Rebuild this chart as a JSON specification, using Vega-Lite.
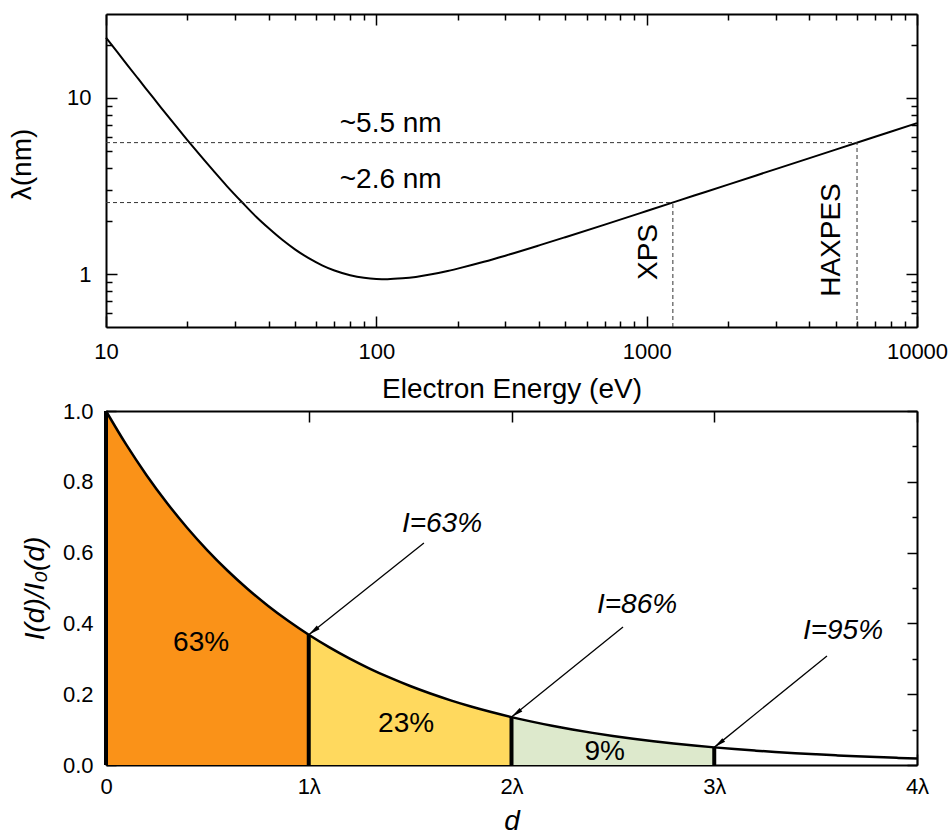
{
  "$schema": "https://vega.github.io/schema/vega-lite/v6.json",
  "padding": {"left": 8, "top": 13, "right": 0, "bottom": 0},
  "bounds": "flush",
  "spacing": 84,
  "datasets": {
    "imfp": [
      {"E": 10, "lam": 22.03}, {"E": 11, "lam": 18.26}, {"E": 12, "lam": 15.39}, {"E": 13, "lam": 13.16},
      {"E": 14, "lam": 11.39}, {"E": 15, "lam": 9.97}, {"E": 16, "lam": 8.80}, {"E": 18, "lam": 7.03},
      {"E": 20, "lam": 5.77}, {"E": 22, "lam": 4.84}, {"E": 25, "lam": 3.85}, {"E": 28, "lam": 3.16},
      {"E": 32, "lam": 2.54}, {"E": 36, "lam": 2.11}, {"E": 40, "lam": 1.82}, {"E": 45, "lam": 1.56},
      {"E": 50, "lam": 1.381}, {"E": 56, "lam": 1.234}, {"E": 63, "lam": 1.121}, {"E": 70, "lam": 1.047},
      {"E": 80, "lam": 0.985}, {"E": 90, "lam": 0.952}, {"E": 100, "lam": 0.938}, {"E": 110, "lam": 0.935},
      {"E": 125, "lam": 0.945}, {"E": 140, "lam": 0.963}, {"E": 160, "lam": 0.996}, {"E": 180, "lam": 1.033},
      {"E": 200, "lam": 1.073}, {"E": 250, "lam": 1.173}, {"E": 300, "lam": 1.271}, {"E": 400, "lam": 1.454},
      {"E": 500, "lam": 1.619}, {"E": 700, "lam": 1.909}, {"E": 1000, "lam": 2.279}, {"E": 1500, "lam": 2.790},
      {"E": 2000, "lam": 3.220}, {"E": 3000, "lam": 3.944}, {"E": 5000, "lam": 5.091}, {"E": 7000, "lam": 6.024},
      {"E": 10000, "lam": 7.2}
    ],
    "decay": [
      {"d": 0, "v": 1}, {"d": 0.1, "v": 0.9048}, {"d": 0.2, "v": 0.8187}, {"d": 0.3, "v": 0.7408},
      {"d": 0.4, "v": 0.6703}, {"d": 0.5, "v": 0.6065}, {"d": 0.6, "v": 0.5488}, {"d": 0.7, "v": 0.4966},
      {"d": 0.8, "v": 0.4493}, {"d": 0.9, "v": 0.4066}, {"d": 1.0, "v": 0.3679}, {"d": 1.1, "v": 0.3329},
      {"d": 1.2, "v": 0.3012}, {"d": 1.3, "v": 0.2725}, {"d": 1.4, "v": 0.2466}, {"d": 1.5, "v": 0.2231},
      {"d": 1.6, "v": 0.2019}, {"d": 1.7, "v": 0.1827}, {"d": 1.8, "v": 0.1653}, {"d": 1.9, "v": 0.1496},
      {"d": 2.0, "v": 0.1353}, {"d": 2.1, "v": 0.1225}, {"d": 2.2, "v": 0.1108}, {"d": 2.3, "v": 0.1003},
      {"d": 2.4, "v": 0.0907}, {"d": 2.5, "v": 0.0821}, {"d": 2.6, "v": 0.0743}, {"d": 2.7, "v": 0.0672},
      {"d": 2.8, "v": 0.0608}, {"d": 2.9, "v": 0.0550}, {"d": 3.0, "v": 0.0498}, {"d": 3.1, "v": 0.0450},
      {"d": 3.2, "v": 0.0408}, {"d": 3.3, "v": 0.0369}, {"d": 3.4, "v": 0.0334}, {"d": 3.5, "v": 0.0302},
      {"d": 3.6, "v": 0.0273}, {"d": 3.7, "v": 0.0247}, {"d": 3.8, "v": 0.0224}, {"d": 3.9, "v": 0.0202},
      {"d": 4.0, "v": 0.0183}
    ],
    "regions": [
      {"d": 0, "v": 1, "r": "a"}, {"d": 0.1, "v": 0.9048, "r": "a"}, {"d": 0.2, "v": 0.8187, "r": "a"}, {"d": 0.3, "v": 0.7408, "r": "a"},
      {"d": 0.4, "v": 0.6703, "r": "a"}, {"d": 0.5, "v": 0.6065, "r": "a"}, {"d": 0.6, "v": 0.5488, "r": "a"}, {"d": 0.7, "v": 0.4966, "r": "a"},
      {"d": 0.8, "v": 0.4493, "r": "a"}, {"d": 0.9, "v": 0.4066, "r": "a"}, {"d": 1.0, "v": 0.3679, "r": "a"},
      {"d": 1.0, "v": 0.3679, "r": "b"}, {"d": 1.1, "v": 0.3329, "r": "b"}, {"d": 1.2, "v": 0.3012, "r": "b"}, {"d": 1.3, "v": 0.2725, "r": "b"},
      {"d": 1.4, "v": 0.2466, "r": "b"}, {"d": 1.5, "v": 0.2231, "r": "b"}, {"d": 1.6, "v": 0.2019, "r": "b"}, {"d": 1.7, "v": 0.1827, "r": "b"},
      {"d": 1.8, "v": 0.1653, "r": "b"}, {"d": 1.9, "v": 0.1496, "r": "b"}, {"d": 2.0, "v": 0.1353, "r": "b"},
      {"d": 2.0, "v": 0.1353, "r": "c"}, {"d": 2.1, "v": 0.1225, "r": "c"}, {"d": 2.2, "v": 0.1108, "r": "c"}, {"d": 2.3, "v": 0.1003, "r": "c"},
      {"d": 2.4, "v": 0.0907, "r": "c"}, {"d": 2.5, "v": 0.0821, "r": "c"}, {"d": 2.6, "v": 0.0743, "r": "c"}, {"d": 2.7, "v": 0.0672, "r": "c"},
      {"d": 2.8, "v": 0.0608, "r": "c"}, {"d": 2.9, "v": 0.0550, "r": "c"}, {"d": 3.0, "v": 0.0498, "r": "c"}
    ]
  },
  "vconcat": [
    {
      "width": 811,
      "height": 313,
      "resolve": {"axis": {"x": "independent", "y": "independent"}},
      "layer": [
        {
          "data": {"name": "imfp"},
          "mark": {"type": "line", "color": "black", "strokeWidth": 2, "interpolate": "monotone"},
          "encoding": {
            "x": {"field": "E", "type": "quantitative",
              "scale": {"type": "log", "domain": [10, 10000], "nice": false},
              "axis": {"orient": "bottom", "values": [10, 100, 1000, 10000], "format": "d", "tickSize": -11, "labelPadding": 25,
                "title": "Electron Energy (eV)", "titleBaseline": "alphabetic", "titleY": 70}},
            "y": {"field": "lam", "type": "quantitative",
              "scale": {"type": "log", "domain": [0.5, 30], "nice": false},
              "axis": {"orient": "left", "values": [1, 10], "format": "d", "tickSize": -11, "labelPadding": 26,
                "title": "λ(nm)", "titleBaseline": "alphabetic", "titleX": -76, "titleY": 150}}
          }
        },
        {
          "data": {"values": [
            {"y": 5.577, "x1": 10, "x2": 6000},
            {"y": 2.546, "x1": 10, "x2": 1250}
          ]},
          "mark": {"type": "rule", "color": "#333333", "strokeWidth": 1, "strokeDash": [4, 3]},
          "encoding": {
            "x": {"field": "x1", "type": "quantitative",
              "axis": {"orient": "bottom", "values": [20, 30, 40, 50, 60, 70, 80, 90, 200, 300, 400, 500, 600, 700, 800, 900, 2000, 3000, 4000, 5000, 6000, 7000, 8000, 9000],
                "labels": false, "domain": false, "tickSize": -6, "title": null}},
            "x2": {"field": "x2"},
            "y": {"field": "y", "type": "quantitative",
              "axis": {"orient": "left", "values": [0.6, 0.7, 0.8, 0.9, 2, 3, 4, 5, 6, 7, 8, 9, 20],
                "labels": false, "domain": false, "tickSize": -6, "title": null}}
          }
        },
        {
          "data": {"values": [
            {"x": 1250, "y1": 0.5, "y2": 2.546},
            {"x": 6000, "y1": 0.5, "y2": 5.577}
          ]},
          "mark": {"type": "rule", "color": "#333333", "strokeWidth": 1, "strokeDash": [4, 3]},
          "encoding": {
            "x": {"field": "x", "type": "quantitative",
              "axis": {"orient": "top", "values": [10, 100, 1000, 10000], "labels": false, "tickSize": -11, "title": null}},
            "y": {"field": "y1", "type": "quantitative",
              "axis": {"orient": "right", "values": [1, 10], "labels": false, "tickSize": -11, "title": null}},
            "y2": {"field": "y2"}
          }
        },
        {
          "data": {"values": [
            {"E": 113, "lam": 7.12, "label": "~5.5 nm"},
            {"E": 113, "lam": 3.42, "label": "~2.6 nm"}
          ]},
          "mark": {"type": "text", "fontSize": 28, "align": "center", "baseline": "middle", "color": "black"},
          "encoding": {
            "x": {"field": "E", "type": "quantitative",
              "axis": {"orient": "top", "values": [20, 30, 40, 50, 60, 70, 80, 90, 200, 300, 400, 500, 600, 700, 800, 900, 2000, 3000, 4000, 5000, 6000, 7000, 8000, 9000],
                "labels": false, "domain": false, "tickSize": -6, "title": null}},
            "y": {"field": "lam", "type": "quantitative",
              "axis": {"orient": "right", "values": [0.6, 0.7, 0.8, 0.9, 2, 3, 4, 5, 6, 7, 8, 9, 20],
                "labels": false, "domain": false, "tickSize": -6, "title": null}},
            "text": {"field": "label"}
          }
        },
        {
          "data": {"values": [
            {"E": 1021, "lam": 1.334, "label": "XPS"},
            {"E": 4853, "lam": 1.56, "label": "HAXPES"}
          ]},
          "mark": {"type": "text", "fontSize": 28, "align": "center", "baseline": "middle", "angle": 270, "color": "black"},
          "encoding": {
            "x": {"field": "E", "type": "quantitative", "axis": null},
            "y": {"field": "lam", "type": "quantitative", "axis": null},
            "text": {"field": "label"}
          }
        }
      ]
    },
    {
      "width": 811,
      "height": 354,
      "resolve": {"axis": {"x": "independent", "y": "independent"}},
      "layer": [
        {
          "data": {"name": "regions"},
          "mark": {"type": "area", "opacity": 1, "interpolate": "monotone"},
          "encoding": {
            "x": {"field": "d", "type": "quantitative",
              "scale": {"domain": [0, 4], "nice": false},
              "axis": {"orient": "bottom", "values": [0, 1, 2, 3, 4], "tickSize": -11, "labelPadding": 22,
                "labelExpr": "datum.value == 0 ? '0' : datum.value + 'λ'",
                "title": "d", "titleFontStyle": "italic", "titleBaseline": "alphabetic", "titleY": 64}},
            "y": {"field": "v", "type": "quantitative", "stack": null,
              "scale": {"domain": [0, 1], "nice": false},
              "axis": {"orient": "left", "values": [0, 0.2, 0.4, 0.6, 0.8, 1.0], "format": ".1f", "tickSize": -10, "labelPadding": 23,
                "title": "I(d)/I₀(d)", "titleFontStyle": "italic", "titleBaseline": "alphabetic", "titleX": -63}},
            "color": {"field": "r", "type": "nominal", "legend": null,
              "scale": {"domain": ["a", "b", "c"], "range": ["#FA9218", "#FFD95E", "#DDE9CC"]}}
          }
        },
        {
          "data": {"name": "decay"},
          "mark": {"type": "line", "color": "black", "strokeWidth": 2.5, "interpolate": "monotone"},
          "encoding": {
            "x": {"field": "d", "type": "quantitative",
              "axis": {"orient": "top", "values": [0, 1, 2, 3, 4], "labels": false, "tickSize": -11, "title": null}},
            "y": {"field": "v", "type": "quantitative",
              "axis": {"orient": "left", "values": [0.1, 0.3, 0.5, 0.7, 0.9], "labels": false, "domain": false, "tickSize": -5, "title": null}}
          }
        },
        {
          "data": {"values": [
            {"d": 0, "top": 1}, {"d": 1, "top": 0.3679}, {"d": 2, "top": 0.1353}, {"d": 3, "top": 0.0498}
          ]},
          "mark": {"type": "rule", "color": "black", "strokeWidth": 4},
          "encoding": {
            "x": {"field": "d", "type": "quantitative", "axis": null},
            "y": {"field": "top", "type": "quantitative",
              "axis": {"orient": "right", "values": [0, 0.2, 0.4, 0.6, 0.8, 1.0], "labels": false, "tickSize": -10, "title": null}},
            "y2": {"datum": 0}
          }
        },
        {
          "data": {"values": [
            {"tx": 1.568, "ty": 0.627, "hx": 1, "hy": 0.3679},
            {"tx": 2.55, "ty": 0.39, "hx": 2, "hy": 0.1353},
            {"tx": 3.556, "ty": 0.308, "hx": 3, "hy": 0.0498}
          ]},
          "mark": {"type": "rule", "color": "black", "strokeWidth": 1.3},
          "encoding": {
            "x": {"field": "tx", "type": "quantitative", "axis": null},
            "y": {"field": "ty", "type": "quantitative",
              "axis": {"orient": "right", "values": [0.1, 0.3, 0.5, 0.7, 0.9], "labels": false, "domain": false, "tickSize": -5, "title": null}},
            "x2": {"field": "hx"},
            "y2": {"field": "hy"}
          }
        },
        {
          "data": {"values": [
            {"hx": 1, "hy": 0.3679}, {"hx": 2, "hy": 0.1353}, {"hx": 3, "hy": 0.0498}
          ]},
          "mark": {"type": "point", "shape": "M0,0L0.45,2.4L-0.45,2.4Z", "size": 100, "filled": true, "color": "black", "opacity": 1, "angle": 232},
          "encoding": {
            "x": {"field": "hx", "type": "quantitative", "axis": null},
            "y": {"field": "hy", "type": "quantitative", "axis": null}
          }
        },
        {
          "data": {"values": [
            {"d": 0.469, "v": 0.346, "label": "63%"},
            {"d": 1.48, "v": 0.116, "label": "23%"},
            {"d": 2.46, "v": 0.037, "label": "9%"}
          ]},
          "mark": {"type": "text", "fontSize": 28, "align": "center", "baseline": "middle", "color": "black"},
          "encoding": {
            "x": {"field": "d", "type": "quantitative", "axis": null},
            "y": {"field": "v", "type": "quantitative", "axis": null},
            "text": {"field": "label"}
          }
        },
        {
          "data": {"values": [
            {"d": 1.657, "v": 0.681, "label": "I=63%"},
            {"d": 2.619, "v": 0.452, "label": "I=86%"},
            {"d": 3.635, "v": 0.379, "label": "I=95%"}
          ]},
          "mark": {"type": "text", "fontSize": 28, "fontStyle": "italic", "align": "center", "baseline": "middle", "color": "black"},
          "encoding": {
            "x": {"field": "d", "type": "quantitative", "axis": null},
            "y": {"field": "v", "type": "quantitative", "axis": null},
            "text": {"field": "label"}
          }
        }
      ]
    }
  ],
  "config": {
    "font": "Liberation Sans",
    "view": {"stroke": null},
    "axis": {
      "grid": false, "domainColor": "black", "domainWidth": 2, "tickColor": "black", "tickWidth": 1.5,
      "labelColor": "black", "titleColor": "black", "labelFontSize": 22, "titleFontSize": 28,
      "titleFontWeight": "normal", "labelFont": "Liberation Sans", "titleFont": "Liberation Sans",
      "zindex": 1, "labelOverlap": false, "labelFlush": false, "labelBound": false
    }
  }
}
